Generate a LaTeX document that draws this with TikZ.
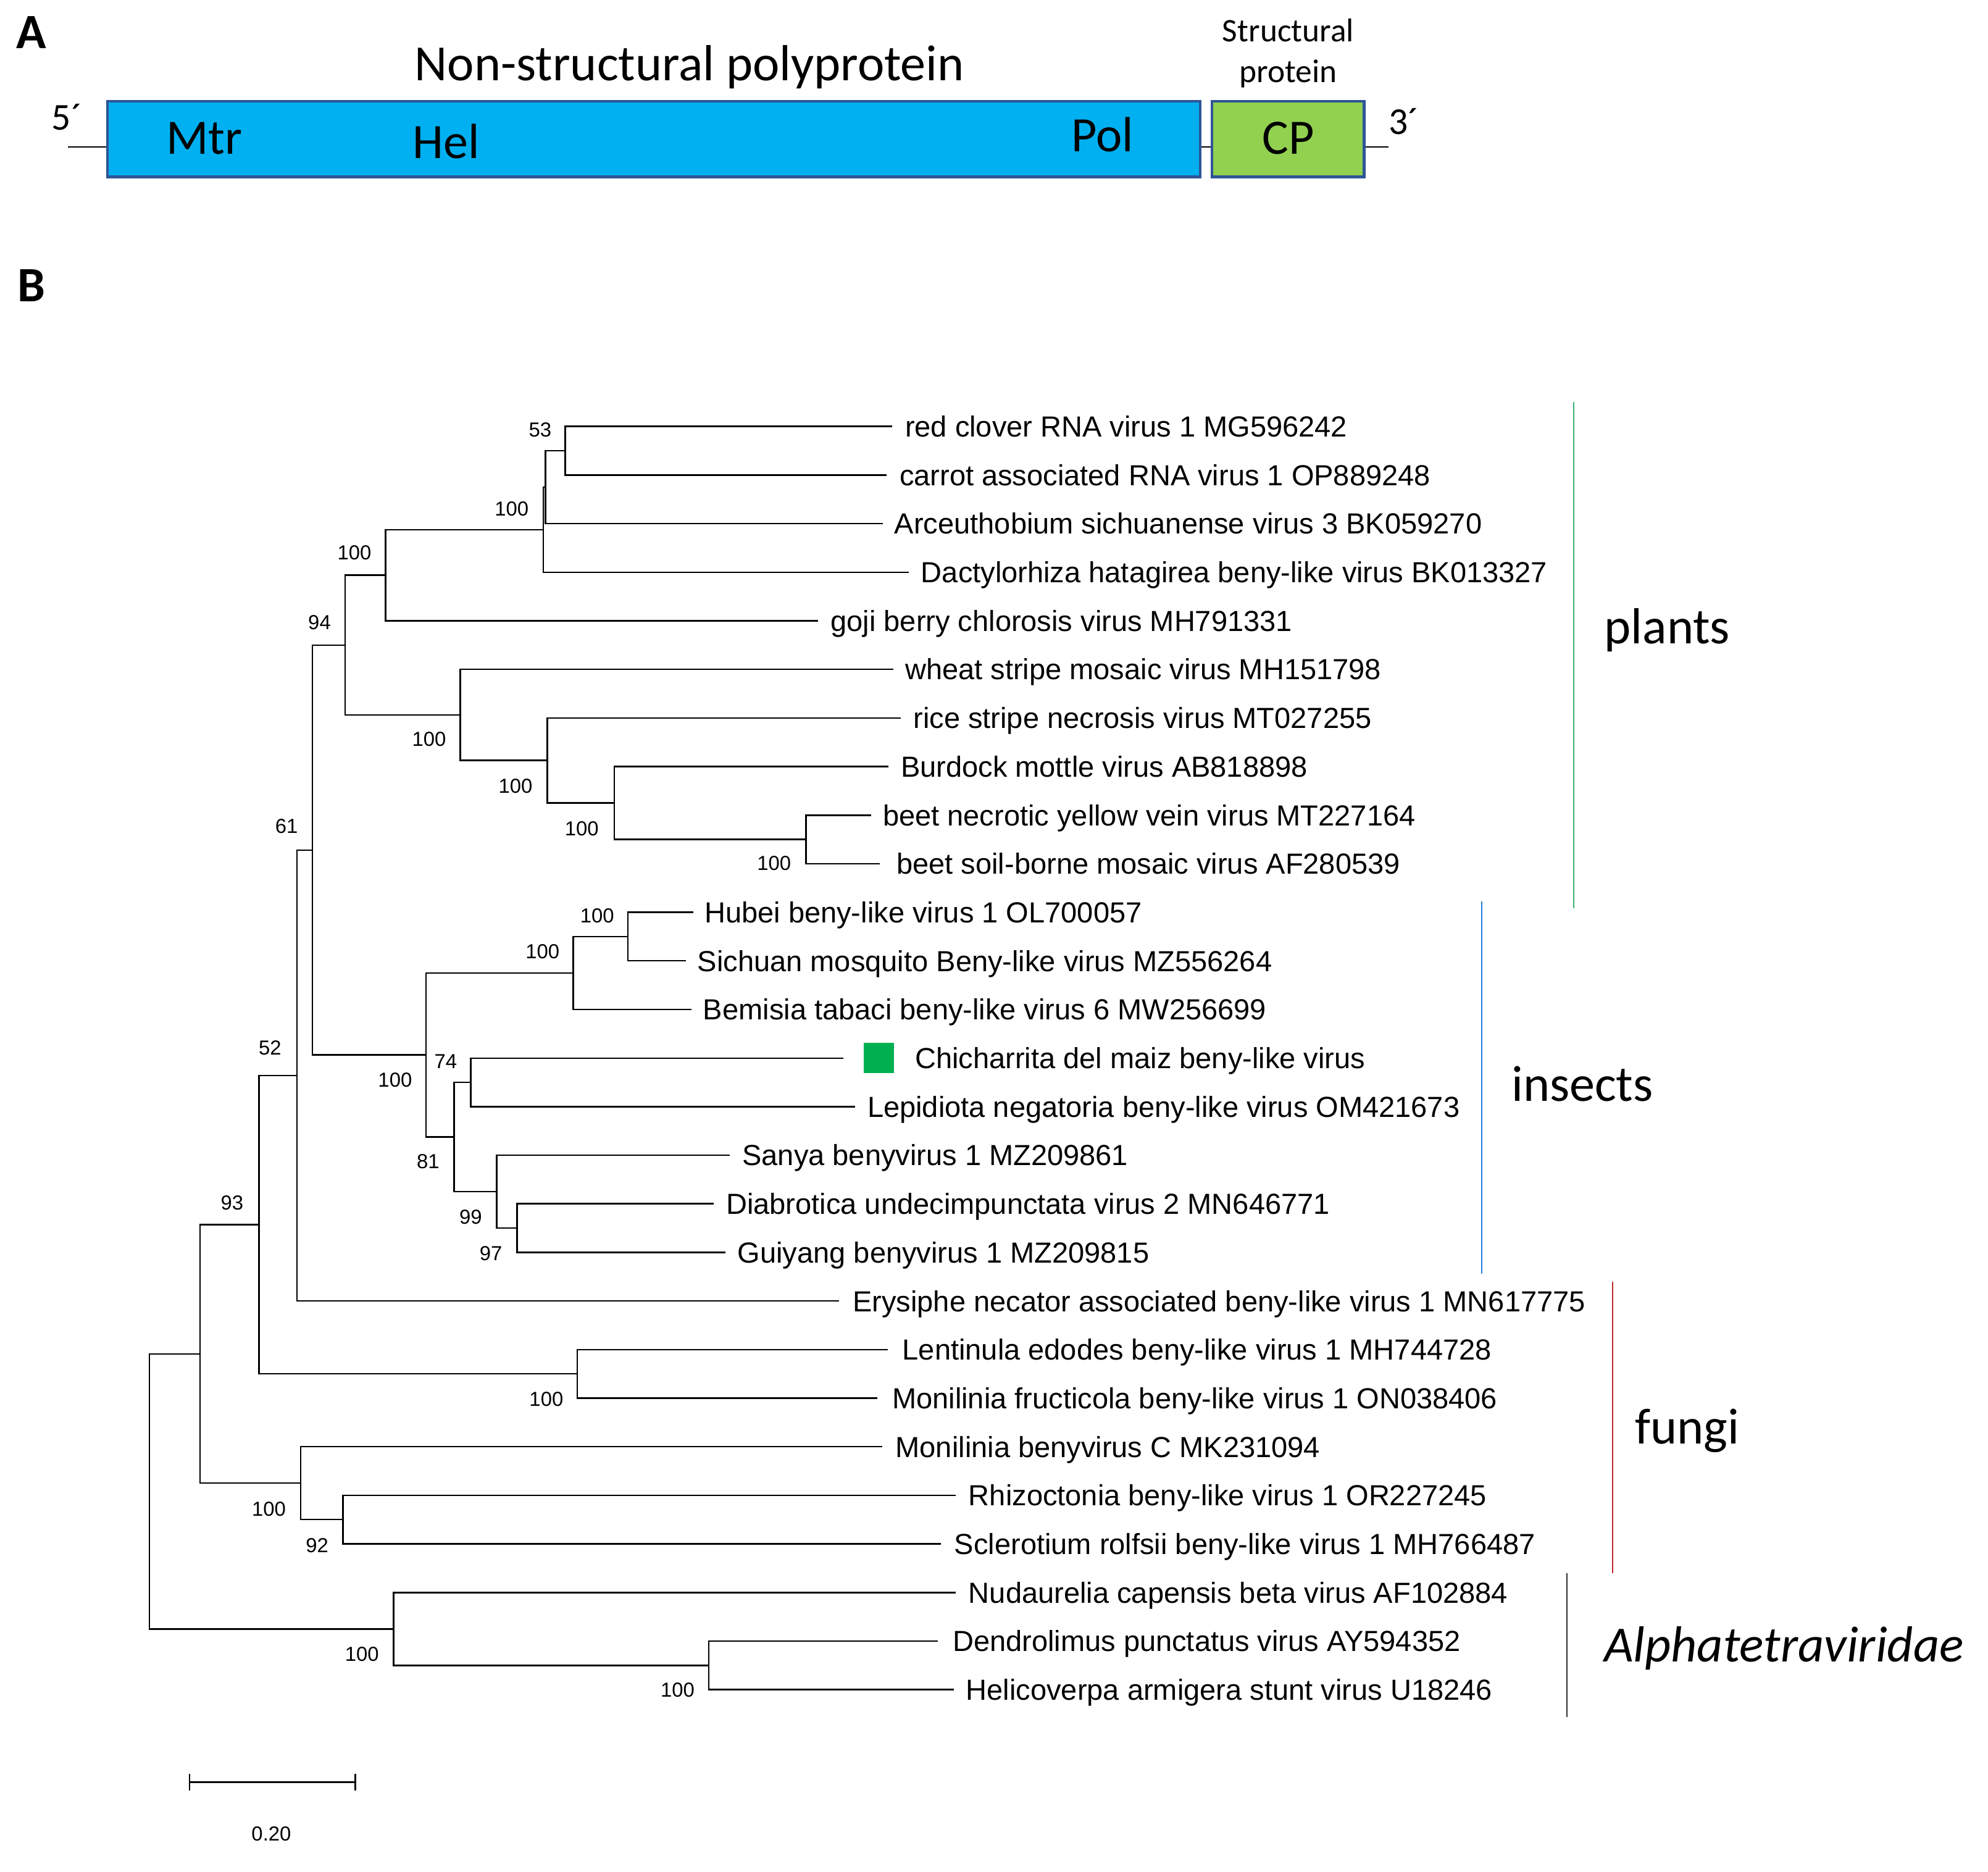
\documentclass[tikz,border=0pt]{standalone}
\usepackage{fontspec}
\setmainfont{Liberation Sans}
\newfontfamily\calibri{Carlito}
\definecolor{boxblue}{HTML}{00B0F0}
\definecolor{boxgreen}{HTML}{92D050}
\definecolor{boxedge}{HTML}{2F5597}
\definecolor{sqgreen}{HTML}{00B050}
\definecolor{plantbar}{HTML}{3CB371}
\definecolor{insectbar}{HTML}{1E7FE0}
\definecolor{fungibar}{HTML}{C0282D}
\definecolor{alphabar}{HTML}{303030}
\newcommand\leafitem[5]{%
  \coordinate (#1e) at (#3,#2);
  \node[leaf] (#1) at (#4,{#2+8.2}) {#5};}
\begin{document}
\begin{tikzpicture}[x=1pt,y=-1pt,
  branch/.style={line width=1.2pt},
  leaf/.style={anchor=base west, inner sep=0pt, font=\fontsize{22.9}{27}\selectfont},
  boot/.style={inner sep=0pt, font=\fontsize{16}{19}\selectfont},
  grp/.style={inner sep=0pt, font=\calibri\fontsize{40}{48}\selectfont},
  panel/.style={inner sep=0pt, anchor=base west, font=\calibri\bfseries\fontsize{39}{46}\selectfont},
  dom/.style={inner sep=0pt, anchor=base, font=\calibri\fontsize{39}{46}\selectfont},
  genebox/.style={draw=boxedge, line width=2.1pt, inner sep=0pt, minimum height=59.8pt},
  grpbar/.style={line width=1.1pt},
  thinline/.style={line width=1pt}
]
\fill[white] (0,0) rectangle (1568,1476);
\useasboundingbox (0,0) rectangle (1568,1476);

% ---------------- Panel A ----------------
\node[panel] (labA) at (12.9,38.2) {A};
\node[panel] (labB) at (13.5,237.7) {B};
\node[dom, font=\calibri\fontsize{40}{48}\selectfont] (title) at (543.9,63.5) {Non-structural polyprotein};
\node[dom, font=\calibri\fontsize{26}{30}\selectfont] (struct1) at (1016,32.9) {Structural};
\node[dom, font=\calibri\fontsize{26}{30}\selectfont] (struct2) at (1016,65.1) {protein};

\node[genebox, fill=boxblue, minimum width=862.1pt] (nsp) at (515.7,109.65) {};
\node[genebox, fill=boxgreen, minimum width=120pt] (cpbox) at (1015.95,109.65) {};

\coordinate (l5) at (53.6,115.7);
\coordinate (r3) at (1095,115.7);
\draw[thinline] (l5) -- (l5 -| nsp.west);
\draw[thinline] (nsp.east |- l5) -- (cpbox.west |- l5);
\draw[thinline] (cpbox.east |- r3) -- (r3);

\node[inner sep=0pt, anchor=base west, font=\calibri\fontsize{30}{36}\selectfont] (five) at (40.7,102.3) {5´};
\node[inner sep=0pt, anchor=base west, font=\calibri\fontsize{30}{36}\selectfont] (three) at (1095,106) {3´};

\node[dom] (mtr) at (161,121.6) {Mtr};
\node[dom] (hel) at (351.8,125) {Hel};
\node[dom] (pol) at (869.6,119.7) {Pol};
\node[dom] (cp) at (1016,121.6) {CP};

% ---------------- Panel B: leaves ----------------
\leafitem{L0}{336.3}{703.8}{713.7}{red clover RNA virus 1 MG596242}
\leafitem{L1}{374.6}{699.4}{709.3}{carrot associated RNA virus 1 OP889248}
\leafitem{L2}{412.9}{696.4}{705.3}{Arceuthobium sichuanense virus 3 BK059270}
\leafitem{L3}{451.3}{716.8}{726.3}{Dactylorhiza hatagirea beny-like virus BK013327}
\leafitem{L4}{489.6}{645.1}{655.0}{goji berry chlorosis virus MH791331}
\leafitem{L5}{527.9}{704.6}{713.7}{wheat stripe mosaic virus MH151798}
\leafitem{L6}{566.2}{710.3}{720.2}{rice stripe necrosis virus MT027255}
\leafitem{L7}{604.5}{700.7}{710.3}{Burdock mottle virus AB818898}
\leafitem{L8}{642.9}{687.2}{696.2}{beet necrotic yellow vein virus MT227164}
\leafitem{L9}{681.2}{694.0}{707.0}{beet soil-borne mosaic virus AF280539}
\leafitem{L10}{719.5}{546.8}{555.5}{Hubei beny-like virus 1 OL700057}
\leafitem{L11}{757.8}{540.8}{550.0}{Sichuan mosquito Beny-like virus MZ556264}
\leafitem{L12}{796.1}{545.6}{554.4}{Bemisia tabaci beny-like virus 6 MW256699}
\leafitem{L13}{834.5}{665.0}{721.5}{Chicharrita del maiz beny-like virus}
\leafitem{L14}{872.8}{674.2}{684.0}{Lepidiota negatoria beny-like virus OM421673}
\leafitem{L15}{911.1}{575.5}{585.3}{Sanya benyvirus 1 MZ209861}
\leafitem{L16}{949.4}{562.8}{572.6}{Diabrotica undecimpunctata virus 2 MN646771}
\leafitem{L17}{987.7}{572.4}{581.6}{Guiyang benyvirus 1 MZ209815}
\leafitem{L18}{1026.1}{661.9}{672.4}{Erysiphe necator associated beny-like virus 1 MN617775}
\leafitem{L19}{1064.4}{700.3}{711.6}{Lentinula edodes beny-like virus 1 MH744728}
\leafitem{L20}{1102.7}{692.1}{703.5}{Monilinia fructicola beny-like virus 1 ON038406}
\leafitem{L21}{1141.0}{695.9}{706.2}{Monilinia benyvirus C MK231094}
\leafitem{L22}{1179.3}{753.7}{763.8}{Rhizoctonia beny-like virus 1 OR227245}
\leafitem{L23}{1217.7}{742.3}{752.6}{Sclerotium rolfsii beny-like virus 1 MH766487}
\leafitem{L24}{1256.0}{753.7}{763.8}{Nudaurelia capensis beta virus AF102884}
\leafitem{L25}{1294.3}{739.8}{751.2}{Dendrolimus punctatus virus AY594352}
\leafitem{L26}{1332.6}{752.4}{761.8}{Helicoverpa armigera stunt virus U18246}

\node[fill=sqgreen, minimum size=24pt, inner sep=0pt] (newvirus) at (693,834.3) {};

% ---------------- internal nodes ----------------
\coordinate (n53) at (445.8,355.45);
\coordinate (nA) at (430.3,384.2);
\coordinate (n100) at (428.6,417.7);
\coordinate (n100b) at (304.1,453.7);
\coordinate (nbeet) at (635.6,662.05);
\coordinate (nbur) at (484.5,633.3);
\coordinate (nrice) at (431.6,599.75);
\coordinate (nwheat) at (363.0,563.8);
\coordinate (n94) at (272.1,508.75);
\coordinate (nhub) at (495.3,738.65);
\coordinate (n453) at (452.1,767.4);
\coordinate (n74) at (371.2,853.65);
\coordinate (n97) at (407.8,968.55);
\coordinate (n99) at (391.7,939.8);
\coordinate (n81) at (358.2,896.7);
\coordinate (n100i) at (335.9,832.05);
\coordinate (n61) at (246.4,670.4);
\coordinate (n52) at (234.1,848.25);
\coordinate (nfung) at (455.4,1083.55);
\coordinate (n204) at (204.3,965.9);
\coordinate (n92) at (270.6,1198.5);
\coordinate (nmon) at (237.1,1169.75);
\coordinate (n93) at (157.8,1067.8);
\coordinate (nalsub) at (559.0,1313.45);
\coordinate (nal) at (310.5,1284.7);
\coordinate (root) at (117.8,1176.25);

% ---------------- branches ----------------
\foreach \p/\c in {n53/L0e, n53/L1e, nA/n53, nA/L2e, n100/nA, n100/L3e,
  n100b/n100, n100b/L4e, nbeet/L8e, nbeet/L9e, nbur/L7e, nbur/nbeet,
  nrice/L6e, nrice/nbur, nwheat/L5e, nwheat/nrice, n94/n100b, n94/nwheat,
  nhub/L10e, nhub/L11e, n453/nhub, n453/L12e, n74/L13e, n74/L14e,
  n97/L16e, n97/L17e, n99/L15e, n99/n97, n81/n74, n81/n99,
  n100i/n453, n100i/n81, n61/n94, n61/n100i, n52/n61, n52/L18e,
  nfung/L19e, nfung/L20e, n204/n52, n204/nfung, n92/L22e, n92/L23e,
  nmon/L21e, nmon/n92, n93/n204, n93/nmon, nalsub/L25e, nalsub/L26e,
  nal/L24e, nal/nalsub, root/n93, root/nal}
  {\draw[branch] (\p) |- (\c);}

% ---------------- bootstrap values ----------------
\node[boot] (b53) at (426,339) {53};
\node[boot] (b100a) at (403.6,401.4) {100};
\node[boot] (b100b) at (279.5,436) {100};
\node[boot] (b94) at (252,490.8) {94};
\node[boot] (b100c) at (338.4,582.8) {100};
\node[boot] (b100d) at (406.6,620) {100};
\node[boot] (b100e) at (458.8,653.5) {100};
\node[boot] (b100f) at (610.5,681) {100};
\node[boot] (b61) at (226,651.4) {61};
\node[boot] (b100g) at (471,722) {100};
\node[boot] (b100h) at (427.9,750.6) {100};
\node[boot] (b74) at (351.5,837) {74};
\node[boot] (b100i) at (311.6,851.8) {100};
\node[boot] (b81) at (337.7,916) {81};
\node[boot] (b99) at (371.2,959.8) {99};
\node[boot] (b97) at (387.2,988.4) {97};
\node[boot] (b52) at (213,826.6) {52};
\node[boot] (b93) at (183,948.6) {93};
\node[boot] (b100j) at (430.9,1103.5) {100};
\node[boot] (b100k) at (212.1,1190) {100};
\node[boot] (b92) at (250.1,1218.8) {92};
\node[boot] (b100l) at (285.5,1304.8) {100};
\node[boot] (b100m) at (534.4,1333) {100};

% ---------------- scale bar ----------------
\coordinate (sb1) at (149.5,1405.6);
\coordinate (sb2) at (280.3,1405.6);
\draw[branch] (sb1) -- (sb2);
\draw[branch] ([yshift=-6.5pt]sb1) -- ([yshift=6.5pt]sb1);
\draw[branch] ([yshift=-6.5pt]sb2) -- ([yshift=6.5pt]sb2);
\node[boot] (sbl) at (214,1446.5) {0.20};

% ---------------- group bars ----------------
\coordinate (gp1) at (1241.3,317); \coordinate (gp2) at (1241.3,716.5);
\coordinate (gi1) at (1168.6,710.8); \coordinate (gi2) at (1168.6,1004.5);
\coordinate (gf1) at (1272,1010.7); \coordinate (gf2) at (1272,1240.7);
\coordinate (ga1) at (1235.8,1240.7); \coordinate (ga2) at (1235.8,1354.3);
\draw[grpbar, plantbar] (gp1) -- (gp2);
\draw[grpbar, insectbar] (gi1) -- (gi2);
\draw[grpbar, fungibar] (gf1) -- (gf2);
\draw[grpbar, alphabar] (ga1) -- (ga2);

\node[grp] (plants) at (1315,497) {plants};
\node[grp] (insects) at (1248,855) {insects};
\node[grp] (fungi) at (1330.9,1128.6) {fungi};
\node[grp, font=\calibri\itshape\fontsize{40}{48}\selectfont] (alpha) at (1407,1300) {Alphatetraviridae};
\end{tikzpicture}
\end{document}
